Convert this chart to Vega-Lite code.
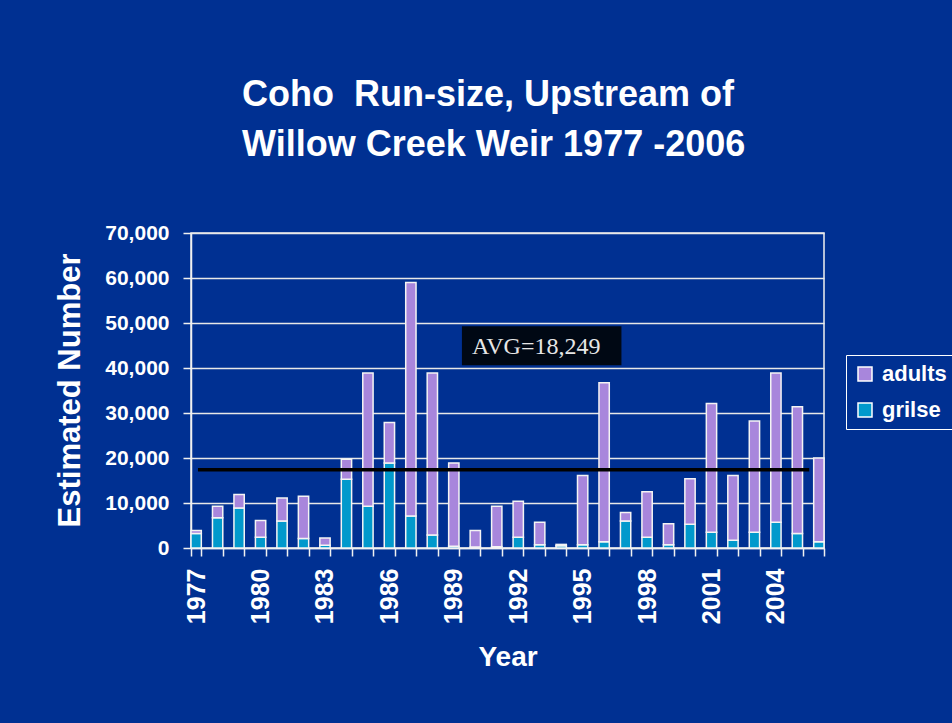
{
  "$schema": "https://vega.github.io/schema/vega-lite/v6.json",
  "width": 633,
  "height": 315,
  "autosize": {"type": "none"},
  "padding": {"left": 191, "top": 233, "right": 128, "bottom": 175},
  "background": "#003092",
  "title": {
    "text": ["Coho\u00a0 Run-size, Upstream of", "Willow Creek Weir 1977 -2006"],
    "anchor": "start",
    "frame": "group",
    "dx": 51,
    "offset": 58,
    "font": "Liberation Sans",
    "fontSize": 36,
    "fontWeight": "bold",
    "color": "white",
    "lineHeight": 50
  },
  "config": {
    "view": {"stroke": "#f0f0f0", "strokeWidth": 1.5},
    "font": "Liberation Sans"
  },
  "datasets": {
    "runs": [
      {"year": "1977", "series": "grilse", "count": 3200}, {"year": "1977", "series": "adults", "count": 700},
      {"year": "1978", "series": "grilse", "count": 6700}, {"year": "1978", "series": "adults", "count": 2600},
      {"year": "1979", "series": "grilse", "count": 8900}, {"year": "1979", "series": "adults", "count": 3000},
      {"year": "1980", "series": "grilse", "count": 2400}, {"year": "1980", "series": "adults", "count": 3700},
      {"year": "1981", "series": "grilse", "count": 6000}, {"year": "1981", "series": "adults", "count": 5100},
      {"year": "1982", "series": "grilse", "count": 2100}, {"year": "1982", "series": "adults", "count": 9400},
      {"year": "1983", "series": "grilse", "count": 600}, {"year": "1983", "series": "adults", "count": 1600},
      {"year": "1984", "series": "grilse", "count": 15300}, {"year": "1984", "series": "adults", "count": 4400},
      {"year": "1985", "series": "grilse", "count": 9300}, {"year": "1985", "series": "adults", "count": 29600},
      {"year": "1986", "series": "grilse", "count": 18900}, {"year": "1986", "series": "adults", "count": 9000},
      {"year": "1987", "series": "grilse", "count": 7100}, {"year": "1987", "series": "adults", "count": 51900},
      {"year": "1988", "series": "grilse", "count": 2900}, {"year": "1988", "series": "adults", "count": 36000},
      {"year": "1989", "series": "grilse", "count": 400}, {"year": "1989", "series": "adults", "count": 18500},
      {"year": "1990", "series": "grilse", "count": 200}, {"year": "1990", "series": "adults", "count": 3700},
      {"year": "1991", "series": "grilse", "count": 300}, {"year": "1991", "series": "adults", "count": 9000},
      {"year": "1992", "series": "grilse", "count": 2400}, {"year": "1992", "series": "adults", "count": 8000},
      {"year": "1993", "series": "grilse", "count": 700}, {"year": "1993", "series": "adults", "count": 5000},
      {"year": "1994", "series": "grilse", "count": 500}, {"year": "1994", "series": "adults", "count": 300},
      {"year": "1995", "series": "grilse", "count": 700}, {"year": "1995", "series": "adults", "count": 15400},
      {"year": "1996", "series": "grilse", "count": 1400}, {"year": "1996", "series": "adults", "count": 35300},
      {"year": "1997", "series": "grilse", "count": 6000}, {"year": "1997", "series": "adults", "count": 1900},
      {"year": "1998", "series": "grilse", "count": 2400}, {"year": "1998", "series": "adults", "count": 10100},
      {"year": "1999", "series": "grilse", "count": 700}, {"year": "1999", "series": "adults", "count": 4700},
      {"year": "2000", "series": "grilse", "count": 5300}, {"year": "2000", "series": "adults", "count": 10100},
      {"year": "2001", "series": "grilse", "count": 3500}, {"year": "2001", "series": "adults", "count": 28600},
      {"year": "2002", "series": "grilse", "count": 1700}, {"year": "2002", "series": "adults", "count": 14400},
      {"year": "2003", "series": "grilse", "count": 3500}, {"year": "2003", "series": "adults", "count": 24700},
      {"year": "2004", "series": "grilse", "count": 5700}, {"year": "2004", "series": "adults", "count": 33200},
      {"year": "2005", "series": "grilse", "count": 3200}, {"year": "2005", "series": "adults", "count": 28200},
      {"year": "2006", "series": "grilse", "count": 1400}, {"year": "2006", "series": "adults", "count": 18600}
    ]
  },
  "resolve": {"scale": {"x": "independent"}, "axis": {"x": "independent"}},
  "layer": [
    {
      "data": {"name": "runs"},
      "mark": {"type": "bar", "stroke": "#f4f4f4", "strokeWidth": 1.5},
      "encoding": {
        "x": {
          "field": "year",
          "type": "ordinal",
          "scale": {"paddingInner": 0.52, "paddingOuter": 0.0},
          "axis": {
            "title": "Year",
            "titleColor": "white",
            "titleFontSize": 28,
            "titleFontWeight": "bold",
            "titleY": 109,
            "titleBaseline": "middle",
            "labelAngle": -90,
            "labelAlign": "right",
            "labelBaseline": "middle",
            "labelColor": "white",
            "labelFontSize": 25,
            "labelFontWeight": "bold",
            "labelPadding": 12,
            "labelOverlap": false,
            "labelExpr": "(toNumber(datum.value) - 1977) % 3 == 0 ? datum.value : ''",
            "tickBand": "extent",
            "tickColor": "#f0f0f0",
            "tickWidth": 1.5,
            "tickSize": 8,
            "domainColor": "#f0f0f0",
            "domainWidth": 1.5
          }
        },
        "y": {
          "field": "count",
          "type": "quantitative",
          "stack": "zero",
          "scale": {"domain": [0, 70000], "nice": false},
          "axis": {
            "title": "Estimated Number",
            "titleColor": "white",
            "titleFontSize": 31,
            "titleFontWeight": "bold",
            "titleAngle": -90,
            "titleX": -121,
            "titleY": 157,
            "titleAlign": "center",
            "titleBaseline": "middle",
            "values": [0, 10000, 20000, 30000, 40000, 50000, 60000, 70000],
            "format": ",d",
            "labelColor": "white",
            "labelFontSize": 21,
            "labelFontWeight": "bold",
            "labelPadding": 14,
            "labelOverlap": false,
            "tickColor": "#f0f0f0",
            "tickWidth": 1.5,
            "tickSize": 8,
            "domainColor": "#f0f0f0",
            "domainWidth": 1.5,
            "grid": true,
            "gridColor": "#e8e8e8",
            "gridWidth": 1.5
          }
        },
        "color": {
          "field": "series",
          "type": "nominal",
          "scale": {"domain": ["adults", "grilse"], "range": ["#a886dc", "#0199cc"]},
          "legend": {
            "title": null,
            "orient": "none",
            "legendX": 655,
            "legendY": 122,
            "strokeColor": "white",
            "padding": 8,
            "symbolType": "square",
            "symbolSize": 196,
            "symbolStrokeColor": "white",
            "symbolStrokeWidth": 1.5,
            "labelColor": "white",
            "labelFontSize": 22,
            "labelFontWeight": "bold",
            "labelOffset": 6,
            "rowPadding": 14
          }
        },
        "order": {"field": "series", "sort": "descending"}
      }
    },
    {
      "data": {"values": [{}]},
      "layer": [
        {
          "mark": {"type": "rect", "color": "#000814"},
          "encoding": {
            "x": {"datum": 12.84, "type": "quantitative", "scale": {"domain": [0, 30], "nice": false}, "axis": null},
            "x2": {"datum": 20.4},
            "y": {"datum": 40600, "type": "quantitative"},
            "y2": {"datum": 49300}
          }
        },
        {
          "mark": {"type": "text", "text": "AVG=18,249", "font": "Liberation Serif", "fontSize": 24, "color": "#e6e6e6", "align": "left", "baseline": "alphabetic"},
          "encoding": {
            "x": {"datum": 13.32, "type": "quantitative"},
            "y": {"datum": 43200, "type": "quantitative"}
          }
        },
        {
          "mark": {"type": "rule", "color": "#000000", "strokeWidth": 3.5},
          "encoding": {
            "x": {"datum": 0.33, "type": "quantitative"},
            "x2": {"datum": 29.3},
            "y": {"datum": 17400, "type": "quantitative"}
          }
        }
      ]
    }
  ]
}
